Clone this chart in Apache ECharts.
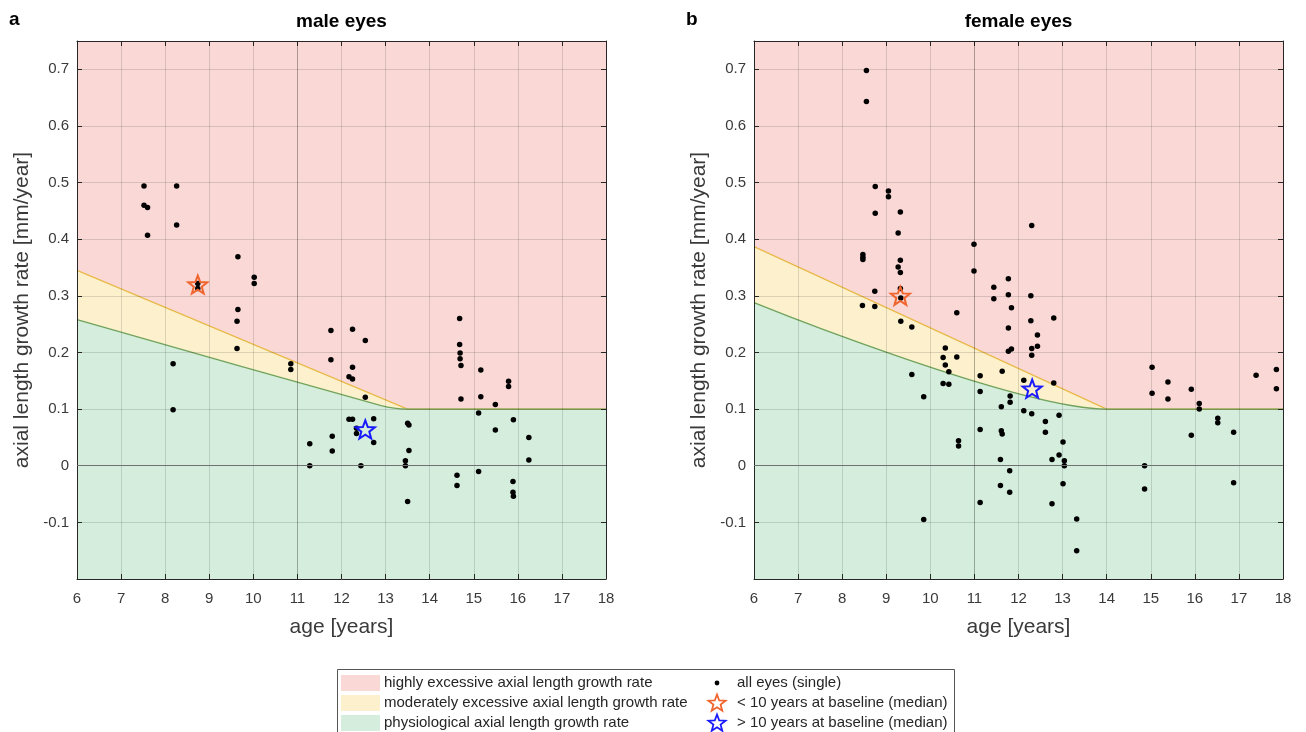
<!DOCTYPE html>
<html>
<head>
<meta charset="utf-8">
<script src="https://cdn.jsdelivr.net/npm/echarts@6/dist/echarts.min.js"></script>
<style>html,body{margin:0;padding:0;background:#fff;}#c{width:1306px;height:732px;}</style>
</head>
<body>
<div id="c"></div>
<script>
// ---------- data ----------
const xTicksMin = 6, xTicksMax = 18;
const panelTitles = ['male eyes', 'female eyes'];
const panelLetters = ['a', 'b'];
const xAxisName = 'age [years]';
const yAxisName = 'axial length growth rate [mm/year]';
const legendAreaNames = ['highly excessive axial length growth rate', 'moderately excessive axial length growth rate', 'physiological axial length growth rate'];
const legendMarkerNames = ['all eyes (single)', '< 10 years at baseline (median)', '> 10 years at baseline (median)'];

// male eyes (age, growth rate)
const maleAge = [7.52,8.26,7.52,7.60,8.26,7.60,9.65,10.02,10.02,8.74,8.74,9.65,9.63,9.63,8.18,8.18,10.85,10.85,11.76,12.25,12.54,11.76,12.25,12.17,12.25,12.54,12.17,12.25,12.73,12.34,12.34,12.73,11.79,11.28,11.79,11.28,12.44,
  14.68,14.68,14.69,14.69,14.71,15.16,15.79,15.79,14.71,15.16,15.49,15.11,15.90,15.49,16.25,16.25,14.62,14.62,15.11,15.89,15.89,15.90,13.50,13.53,13.53,13.45,13.45,13.50];
const maleRate = [0.494,0.494,0.460,0.456,0.425,0.407,0.369,0.333,0.322,0.322,0.313,0.276,0.255,0.207,0.180,0.099,0.180,0.170,0.239,0.241,0.221,0.187,0.174,0.157,0.153,0.121,0.082,0.082,0.083,0.066,0.057,0.041,0.052,0.039,0.026,0.0,0.0,
  0.260,0.214,0.199,0.189,0.177,0.169,0.149,0.140,0.118,0.122,0.108,0.093,0.081,0.063,0.050,0.010,-0.017,-0.035,-0.010,-0.028,-0.047,-0.054,0.075,0.072,0.027,0.009,0.0,-0.063];
const maleYoungMedian = [8.74, 0.320];
const maleOldMedian = [12.54, 0.064];
const maleUpperX = [6, 13.5, 18];
const maleUpperY = [0.345, 0.1, 0.1];
const maleLowerX = [6, 12.9, 13.5, 18];
const maleLowerY = [0.258, 0.106, 0.1, 0.1];

// female eyes (age, growth rate)
const femaleAge = [8.55,8.55,8.75,9.05,9.05,8.75,9.32,9.27,8.47,8.47,8.47,9.32,9.27,9.32,9.32,9.33,8.74,8.46,8.74,9.33,9.58,10.34,10.99,10.99,10.60,11.44,11.44,11.77,11.77,11.84,11.77,11.84,11.77,
  10.29,10.60,10.34,10.42,9.58,10.29,10.42,9.85,11.13,11.13,11.63,11.81,12.30,12.28,12.28,12.80,12.43,12.43,12.30,12.30,12.12,12.80,11.81,11.61,12.12,12.30,12.92,12.61,12.61,11.13,11.61,11.63,
  10.64,10.64,13.01,12.92,12.76,11.59,13.04,13.04,11.80,11.59,11.80,13.01,11.13,12.76,9.85,13.32,13.32,
  15.03,15.03,15.39,15.39,15.92,16.10,16.10,16.52,16.52,15.92,16.88,14.86,14.86,16.88,17.39,17.85,17.85];
const femaleRate = [0.698,0.643,0.493,0.485,0.475,0.446,0.448,0.411,0.373,0.368,0.364,0.363,0.351,0.341,0.313,0.296,0.308,0.283,0.281,0.255,0.245,0.208,0.391,0.344,0.270,0.315,0.295,0.330,0.302,0.279,0.243,0.206,0.202,
  0.191,0.192,0.178,0.166,0.161,0.145,0.144,0.122,0.159,0.131,0.167,0.123,0.424,0.300,0.256,0.261,0.231,0.211,0.207,0.195,0.151,0.146,0.112,0.104,0.097,0.092,0.089,0.078,0.059,0.064,0.062,0.056,
  0.044,0.035,0.042,0.019,0.011,0.011,0.009,0.0,-0.009,-0.035,-0.047,-0.032,-0.065,-0.067,-0.095,-0.094,-0.150,
  0.174,0.128,0.148,0.118,0.135,0.110,0.100,0.084,0.076,0.054,0.059,0.0,-0.041,-0.030,0.160,0.170,0.136];
const femaleYoungMedian = [9.32, 0.300];
const femaleOldMedian = [12.31, 0.136];
const femaleUpperX = [6, 14, 18];
const femaleUpperY = [0.387, 0.1, 0.1];
const femaleLowerX = [6, 14, 18];
const femaleLowerY = [0.288, 0.1, 0.1];

// ---------- styles ----------
const FONT = '"Liberation Sans", Arial, Helvetica, sans-serif';
const PINK = '#f9d8d6', YELLOW = '#fcf0cd', GREEN = '#d4eddd';
const YLINE = '#e9b949', GLINE = '#6fa35c';
const ORANGE = '#f0642d', BLUE = '#1a1aff';
const AXC = '#262626', LABC = '#3a3a3a';

function starPoints(cx, cy, R) {
  const r = R * 0.42, pts = [];
  for (let i = 0; i < 10; i++) {
    const a = -Math.PI / 2 + i * Math.PI / 5, rr = i % 2 ? r : R;
    pts.push([cx + rr * Math.cos(a), cy + rr * Math.sin(a)]);
  }
  return pts;
}
const starPath = 'path://' + starPoints(0, 0, 10).map((p, i) => (i ? 'L' : 'M') + p[0].toFixed(3) + ',' + p[1].toFixed(3)).join(' ') + ' Z';
const zip = (a, b) => a.map((v, i) => [v, b[i]]);

const grids = [
  { left: 77, top: 41, width: 529, height: 538 },
  { left: 754, top: 41, width: 529, height: 538 }
];

const xAxes = [], yAxes = [], series = [];
const panels = [
  { age: maleAge, rate: maleRate, upX: maleUpperX, upY: maleUpperY, loX: maleLowerX, loY: maleLowerY, young: maleYoungMedian, old: maleOldMedian },
  { age: femaleAge, rate: femaleRate, upX: femaleUpperX, upY: femaleUpperY, loX: femaleLowerX, loY: femaleLowerY, young: femaleYoungMedian, old: femaleOldMedian }
];

panels.forEach((p, g) => {
  xAxes.push({
    type: 'value', gridIndex: g, min: xTicksMin, max: xTicksMax, interval: 1, z: 2,
    axisLine: { show: true, onZero: false, lineStyle: { color: AXC, width: 1 } },
    axisTick: { show: true, inside: true, length: 5, lineStyle: { color: AXC } },
    axisLabel: { fontSize: 15, color: LABC, margin: 12, fontFamily: FONT },
    splitLine: { show: true, lineStyle: { color: 'rgba(0,0,0,0.13)', width: 1 } },
    name: xAxisName, nameLocation: 'middle', nameGap: 38,
    nameTextStyle: { fontSize: 21, color: LABC, fontFamily: FONT }
  });
  xAxes.push({
    type: 'value', gridIndex: g, position: 'top', min: xTicksMin, max: xTicksMax, interval: 1, z: 2,
    axisLine: { show: true, onZero: false, lineStyle: { color: AXC, width: 1 } },
    axisTick: { show: true, inside: true, length: 5, lineStyle: { color: AXC } },
    axisLabel: { show: false }, splitLine: { show: false }
  });
  yAxes.push({
    type: 'value', gridIndex: g, min: -0.2, max: 0.75, interval: 0.1, z: 2,
    axisLine: { show: true, onZero: false, lineStyle: { color: AXC, width: 1 } },
    axisTick: { show: true, inside: true, length: 5, lineStyle: { color: AXC } },
    axisLabel: {
      fontSize: 15, color: LABC, margin: 8, fontFamily: FONT, showMinLabel: false,
      formatter: v => { const t = Math.round(v * 10); if (Math.abs(v * 10 - t) > 1e-6 || t === -2) return ''; return String(t / 10); }
    },
    splitLine: { show: true, lineStyle: { color: 'rgba(0,0,0,0.13)', width: 1 } },
    name: yAxisName, nameLocation: 'middle', nameGap: 44, nameRotate: 90,
    nameTextStyle: { fontSize: 21, color: LABC, fontFamily: FONT }
  });
  yAxes.push({
    type: 'value', gridIndex: g, position: 'right', min: -0.2, max: 0.75, interval: 0.1, z: 2,
    axisLine: { show: true, onZero: false, lineStyle: { color: AXC, width: 1 } },
    axisTick: { show: true, inside: true, length: 5, lineStyle: { color: AXC } },
    axisLabel: { show: false }, splitLine: { show: false }
  });
  const xi = g * 2, yi = g * 2;
  series.push({
    name: legendAreaNames[0], type: 'line', xAxisIndex: xi, yAxisIndex: yi, silent: true, z: 1,
    data: [[xTicksMin, 0.75], [xTicksMax, 0.75]], symbol: 'none',
    lineStyle: { width: 0 }, areaStyle: { color: PINK, opacity: 1, origin: 'start' }
  });
  series.push({
    name: legendAreaNames[1], type: 'line', xAxisIndex: xi, yAxisIndex: yi, silent: true, z: 1,
    data: zip(p.upX, p.upY), symbol: 'none',
    lineStyle: { width: 1.3, color: YLINE }, areaStyle: { color: YELLOW, opacity: 1, origin: 'start' }
  });
  series.push({
    name: legendAreaNames[2], type: 'line', xAxisIndex: xi, yAxisIndex: yi, silent: true, z: 1,
    data: zip(p.loX, p.loY), symbol: 'none', smooth: 0.25,
    lineStyle: { width: 1.3, color: GLINE }, areaStyle: { color: GREEN, opacity: 1, origin: 'start' }
  });
  series.push({
    name: legendMarkerNames[0], type: 'scatter', xAxisIndex: xi, yAxisIndex: yi, z: 4,
    data: zip(p.age, p.rate), symbol: 'circle', symbolSize: 5.5,
    itemStyle: { color: '#000', opacity: 1 },
    markLine: {
      silent: true, symbol: 'none', label: { show: false }, animation: false,
      data: [
        { yAxis: 0, lineStyle: { color: '#707070', width: 1.2, type: 'solid' } },
        { xAxis: 11, lineStyle: { color: 'rgba(0,0,0,0.2)', width: 1, type: 'solid' } }
      ]
    }
  });
  series.push({
    name: legendMarkerNames[1], type: 'scatter', xAxisIndex: xi, yAxisIndex: yi, z: 5,
    data: [p.young], symbol: starPath, symbolSize: 19, symbolKeepAspect: true,
    itemStyle: { color: 'rgba(0,0,0,0)', borderColor: ORANGE, borderWidth: 2, opacity: 1 }
  });
  series.push({
    name: legendMarkerNames[2], type: 'scatter', xAxisIndex: xi, yAxisIndex: yi, z: 5,
    data: [p.old], symbol: starPath, symbolSize: 19, symbolKeepAspect: true,
    itemStyle: { color: 'rgba(0,0,0,0)', borderColor: BLUE, borderWidth: 2, opacity: 1 }
  });
});

// ---------- titles & legend (graphic) ----------
const graphic = [];
panelTitles.forEach((t, i) => {
  const g = grids[i];
  graphic.push({ type: 'text', x: g.left + g.width / 2, y: 22, style: { text: t, align: 'center', verticalAlign: 'middle', font: 'bold 19px ' + FONT, fill: '#000' } });
  graphic.push({ type: 'text', x: i === 0 ? 9 : 686, y: 20, style: { text: panelLetters[i], align: 'left', verticalAlign: 'middle', font: 'bold 19px ' + FONT, fill: '#000' } });
});
const LX = 337.5, LY = 669.5, rows = [683, 703, 723];
graphic.push({ type: 'rect', shape: { x: LX, y: LY, width: 617, height: 80 }, style: { fill: '#fff', stroke: '#555', lineWidth: 1 } });
[PINK, YELLOW, GREEN].forEach((c, i) => {
  graphic.push({ type: 'rect', shape: { x: 341, y: rows[i] - 8, width: 39, height: 16 }, style: { fill: c } });
  graphic.push({ type: 'text', x: 384, y: rows[i], style: { text: legendAreaNames[i], align: 'left', verticalAlign: 'middle', font: '15px ' + FONT, fill: '#262626' } });
});
graphic.push({ type: 'circle', shape: { cx: 717, cy: rows[0], r: 2.4 }, style: { fill: '#000' } });
graphic.push({ type: 'polygon', shape: { points: starPoints(717, rows[1] + 0.5, 9) }, style: { fill: 'none', stroke: ORANGE, lineWidth: 1.8 } });
graphic.push({ type: 'polygon', shape: { points: starPoints(717, rows[2] + 0.5, 9) }, style: { fill: 'none', stroke: BLUE, lineWidth: 1.8 } });
legendMarkerNames.forEach((n, i) => {
  graphic.push({ type: 'text', x: 737, y: rows[i], style: { text: n, align: 'left', verticalAlign: 'middle', font: '15px ' + FONT, fill: '#262626' } });
});

const chart = echarts.init(document.getElementById('c'), null, { renderer: 'canvas' });
chart.setOption({
  animation: false,
  backgroundColor: '#fff',
  grid: grids,
  xAxis: xAxes,
  yAxis: yAxes,
  series: series,
  graphic: graphic
});
</script>
</body>
</html>
